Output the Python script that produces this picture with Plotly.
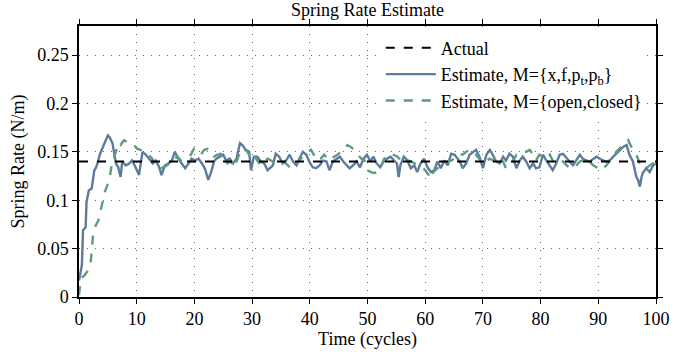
import plotly.graph_objects as go

title_text = "Spring Rate Estimate"
actual_value = 0.14
x_range = [0, 100]

t_est1 = [0, 0.5, 0.7, 1.15, 1.3, 1.7, 2.2, 2.4, 2.65, 2.9, 3.2, 3.6, 4.0, 4.5, 5.0, 5.3, 5.8, 6.1, 6.4, 6.8,
          7.2, 7.5, 8.1, 8.7, 9.2, 9.8, 10.4, 11.0, 11.6, 12.1, 12.8, 13.3, 13.9, 14.3, 14.9, 15.5, 16.1, 16.6,
          17.2, 17.8, 18.4, 19.0, 19.5, 20.1, 20.7, 21.3, 21.8, 22.4, 22.9, 23.4, 23.8, 24.4, 25.0, 25.5, 26.1,
          26.7, 27.3, 27.9, 28.3, 28.9, 29.5, 29.8, 30.3, 30.9, 31.5, 32.1, 32.7, 33.6, 34.1, 34.7, 35.3, 35.9,
          36.5, 37.1, 37.7, 38.2, 38.8, 39.4, 39.9, 40.5, 41.1, 41.7, 42.3, 42.9, 43.4, 44.0, 44.6, 45.2, 45.8,
          46.4, 46.9, 47.5, 48.1, 48.7, 49.3, 49.9, 50.5, 51.0, 51.6, 52.2, 52.8, 53.4, 54.0, 54.6, 55.1, 55.4,
          55.7, 56.3, 56.9, 57.5, 58.1, 58.6, 59.2, 59.8, 60.4, 61.0, 61.6, 62.1, 62.7, 63.3, 63.9, 64.5, 65.1,
          65.6, 66.0, 66.5, 67.1, 67.7, 68.3, 68.8, 69.4, 69.7, 70.0, 70.6, 71.2, 71.7, 72.3, 72.9, 73.5, 74.0,
          74.6, 75.2, 75.8, 76.4, 76.9, 77.5, 78.1, 78.7, 79.2, 79.8, 80.4, 81.0, 81.6, 82.1, 82.7, 83.3, 83.9,
          84.5, 85.0, 85.6, 86.2, 86.8, 87.3, 87.9, 88.5, 89.1, 89.7, 90.2, 90.8, 91.4, 92.0, 92.6, 93.1, 93.7,
          94.3, 94.9, 95.2, 95.4, 96.0, 96.6, 96.9, 97.2, 97.5, 97.7, 98.3, 98.9, 99.5, 100]
k_est1 = [0.017, 0.033, 0.069, 0.072, 0.098, 0.110, 0.112, 0.122, 0.131, 0.133, 0.138, 0.147, 0.152, 0.160, 0.167,
          0.165, 0.159, 0.147, 0.138, 0.134, 0.124, 0.140, 0.136, 0.138, 0.141, 0.134, 0.126, 0.150, 0.147, 0.143,
          0.138, 0.141, 0.134, 0.126, 0.136, 0.138, 0.141, 0.150, 0.143, 0.138, 0.133, 0.138, 0.143, 0.141, 0.143,
          0.138, 0.133, 0.121, 0.129, 0.140, 0.143, 0.145, 0.147, 0.141, 0.143, 0.138, 0.143, 0.159, 0.157, 0.152,
          0.150, 0.131, 0.145, 0.145, 0.140, 0.138, 0.131, 0.136, 0.148, 0.145, 0.138, 0.141, 0.147, 0.140, 0.136,
          0.143, 0.150, 0.147, 0.140, 0.134, 0.133, 0.136, 0.141, 0.140, 0.131, 0.140, 0.143, 0.145, 0.140, 0.136,
          0.133, 0.136, 0.140, 0.134, 0.143, 0.147, 0.140, 0.145, 0.138, 0.134, 0.140, 0.143, 0.145, 0.141, 0.138,
          0.124, 0.136, 0.145, 0.141, 0.133, 0.136, 0.129, 0.138, 0.143, 0.134, 0.129, 0.131, 0.140, 0.133, 0.141,
          0.136, 0.148, 0.147, 0.143, 0.140, 0.133, 0.138, 0.147, 0.150, 0.152, 0.145, 0.140, 0.133, 0.147, 0.152,
          0.147, 0.140, 0.138, 0.145, 0.141, 0.148, 0.145, 0.133, 0.141, 0.145, 0.140, 0.133, 0.138, 0.133, 0.134,
          0.147, 0.141, 0.136, 0.131, 0.138, 0.147, 0.148, 0.143, 0.140, 0.136, 0.141, 0.147, 0.143, 0.141, 0.140,
          0.143, 0.145, 0.143, 0.141, 0.140, 0.141, 0.145, 0.148, 0.152, 0.155, 0.157, 0.152, 0.147, 0.140, 0.124,
          0.121, 0.114, 0.124, 0.128, 0.133, 0.129, 0.136, 0.138]

t_est2 = [0, 0.3, 0.9, 1.4, 2.0, 2.3, 2.4, 2.9, 3.35, 3.7, 4.2, 4.5, 5.0, 5.3, 5.6, 5.95, 6.4, 6.8, 7.2, 7.8,
          8.4, 9.0, 9.5, 10.1, 10.7, 11.3, 11.8, 12.4, 13.0, 13.6, 14.2, 14.7, 15.3, 15.9, 16.5, 17.1, 17.6, 18.2,
          18.8, 19.4, 19.9, 20.5, 21.1, 21.7, 22.3, 22.8, 23.4, 24.0, 24.6, 25.1, 25.7, 26.3, 26.9, 27.5, 28.0,
          28.6, 29.2, 29.8, 30.3, 30.9, 31.5, 32.1, 32.7, 33.6, 34.7, 35.9, 36.5, 37.1, 37.7, 38.2, 38.8, 39.4,
          40.2, 40.7, 41.3, 41.9, 42.5, 43.1, 43.6, 44.2, 44.8, 45.4, 46.0, 46.5, 47.1, 47.7, 48.3, 48.9, 49.5,
          49.7, 50.0, 50.6, 51.2, 51.7, 52.3, 52.9, 53.5, 54.1, 54.6, 55.2, 55.8, 56.4, 57.0, 57.6, 58.2, 58.8,
          59.4, 60.0, 60.6, 60.8, 61.4, 62.1, 62.7, 63.3, 63.9, 64.5, 65.1, 65.6, 66.0, 66.5, 67.1, 67.7, 68.3,
          68.8, 69.4, 70.0, 70.6, 71.2, 71.7, 72.3, 72.9, 73.5, 74.0, 74.6, 75.2, 75.8, 76.4, 76.9, 77.5, 78.1,
          78.7, 79.2, 79.8, 80.4, 81.0, 81.6, 82.1, 82.7, 83.3, 83.9, 84.5, 85.0, 85.6, 86.2, 86.8, 87.3, 87.9,
          88.5, 89.1, 89.7, 90.2, 90.8, 91.4, 92.0, 92.6, 93.1, 93.7, 94.3, 94.9, 95.2, 95.4, 96.0, 96.6, 97.2,
          97.7, 98.3, 98.9, 99.5, 100]
k_est2 = [0.002, 0.019, 0.022, 0.026, 0.034, 0.050, 0.062, 0.074, 0.079, 0.088, 0.100, 0.109, 0.117, 0.122, 0.134,
          0.143, 0.150, 0.159, 0.157, 0.162, 0.160, 0.159, 0.157, 0.153, 0.152, 0.150, 0.147, 0.145, 0.140, 0.134,
          0.133, 0.134, 0.136, 0.140, 0.143, 0.145, 0.141, 0.143, 0.145, 0.147, 0.153, 0.150, 0.147, 0.152, 0.153,
          0.148, 0.145, 0.147, 0.148, 0.145, 0.138, 0.140, 0.134, 0.143, 0.152, 0.153, 0.150, 0.143, 0.147, 0.141,
          0.136, 0.140, 0.143, 0.140, 0.140, 0.138, 0.134, 0.133, 0.138, 0.141, 0.145, 0.148, 0.152, 0.147, 0.141,
          0.143, 0.147, 0.143, 0.141, 0.145, 0.147, 0.150, 0.152, 0.157, 0.155, 0.152, 0.147, 0.143, 0.141, 0.136,
          0.131, 0.129, 0.128, 0.129, 0.134, 0.143, 0.147, 0.148, 0.147, 0.145, 0.141, 0.143, 0.141, 0.140, 0.138,
          0.136, 0.134, 0.131, 0.126, 0.122, 0.129, 0.133, 0.134, 0.136, 0.140, 0.141, 0.143, 0.147, 0.148, 0.147,
          0.150, 0.152, 0.148, 0.147, 0.143, 0.138, 0.141, 0.143, 0.141, 0.145, 0.141, 0.140, 0.133, 0.136, 0.140,
          0.147, 0.148, 0.150, 0.150, 0.152, 0.147, 0.141, 0.147, 0.145, 0.143, 0.147, 0.141, 0.143, 0.141, 0.140,
          0.136, 0.134, 0.133, 0.136, 0.140, 0.141, 0.143, 0.140, 0.136, 0.134, 0.131, 0.133, 0.136, 0.141, 0.143,
          0.150, 0.153, 0.157, 0.160, 0.162, 0.159, 0.152, 0.147, 0.138, 0.134, 0.133, 0.136, 0.138, 0.140]

y_tickvals = [0, 0.05, 0.1, 0.15, 0.2, 0.25]
y_ticktext = ["0", "0.05", "0.1", "0.15", "0.2", "0.25"]
x_tickvals = [0, 10, 20, 30, 40, 50, 60, 70, 80, 90, 100]

FONT = "Liberation Serif"
FS = 18
BLUE = "#5f7b9c"
GREEN = "#5f9b7c"

fig = go.Figure()
fig.add_trace(go.Scatter(x=t_est1, y=k_est1, mode="lines",
                         name="Estimate, M={x,f,p<sub>t</sub>,p<sub>b</sub>}",
                         line=dict(color=BLUE, width=2.4), legendrank=2))
fig.add_trace(go.Scatter(x=t_est2, y=k_est2, mode="lines",
                         name="Estimate, M={open,closed}",
                         line=dict(color=GREEN, width=2.4, dash="dash"), legendrank=3))
fig.add_trace(go.Scatter(x=x_range, y=[actual_value, actual_value], mode="lines",
                         name="Actual", line=dict(color="black", width=2, dash="dash"),
                         legendrank=1))

axis_common = dict(
    showline=True, linecolor="black", linewidth=1.5, mirror="ticks",
    ticks="outside", ticklen=5, tickcolor="black", tickwidth=1,
    showgrid=True, gridcolor="#666666", griddash="1px,7px", gridwidth=1,
    zeroline=False, tickfont=dict(family=FONT, size=FS, color="black"),
)

fig.update_layout(
    width=694, height=356,
    margin=dict(l=79, r=38, t=26, b=57),
    paper_bgcolor="white", plot_bgcolor="white",
    font=dict(family=FONT, size=FS, color="black"),
    title=dict(text=title_text, x=0.5, xref="paper", y=1 - 10 / 356, yref="container",
               yanchor="middle", font=dict(family=FONT, size=FS, color="black")),
    xaxis=dict(range=x_range, tickvals=x_tickvals,
               title=dict(text="Time (cycles)", standoff=2, font=dict(family=FONT, size=FS)),
               **axis_common),
    yaxis=dict(range=[0, 0.28], tickvals=y_tickvals, ticktext=y_ticktext,
               title=dict(text="Spring Rate (N/m)", standoff=8, font=dict(family=FONT, size=FS)),
               **axis_common),
    legend=dict(x=0.523, y=0.987, xanchor="left", yanchor="top", bgcolor="white",
                borderwidth=0, font=dict(family=FONT, size=FS, color="black"),
                itemwidth=50, tracegroupgap=0),
    showlegend=True,
)

fig.write_html("out.html", config={"displayModeBar": False},
               post_script="document.body.style.margin='0';document.body.style.padding='0';")
